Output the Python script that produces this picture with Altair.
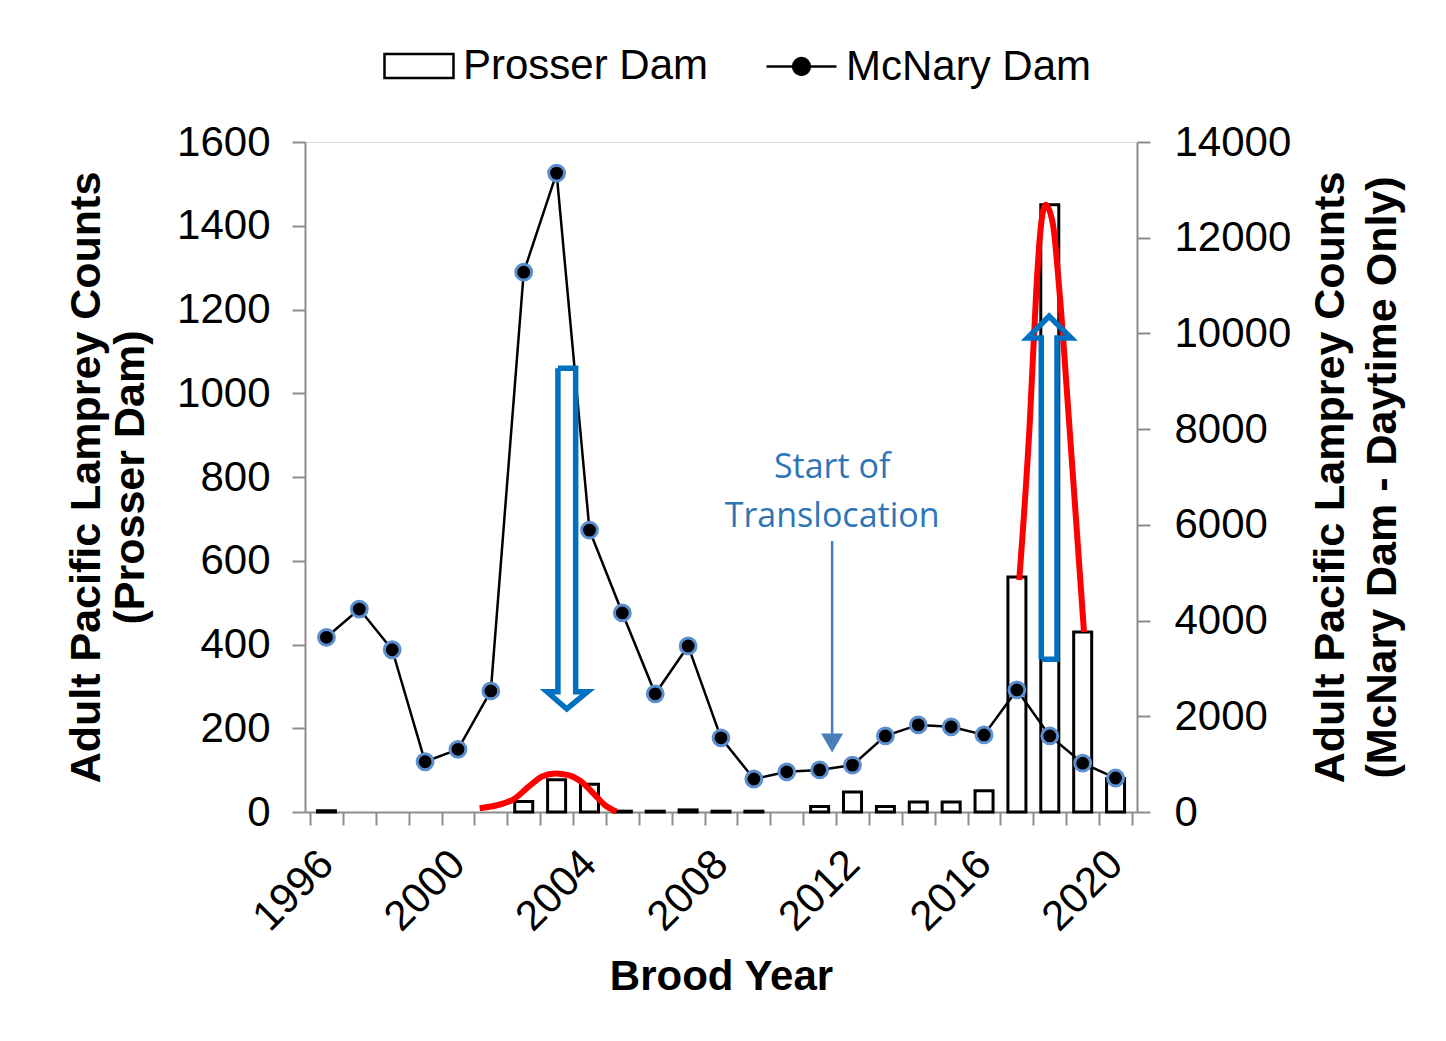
import altair as alt
import pandas as pd

FONT = "Liberation Sans"
GRAY = "#8c8c8c"

# ---- data ----
years = list(range(1996, 2021))
prosser = [3, None, None, None, None, None, 25, 77, 66, 2, 2, 5, 2, 2, None,
           13, 48, 13, 24, 24, 51, 561, 1450, 430, 80]
mcnary = [3650, 4240, 3390, 1050, 1310, 2530, 11280, 13350, 5890, 4160, 2470,
          3470, 1550, 690, 840, 880, 980, 1590, 1820, 1780, 1610, 2550, 1590,
          1020, 710]

# red trend curves (year, Prosser-scale count)
red_a_x = [2000.66, 2001.66, 2002.16, 2002.56, 2002.96, 2003.36, 2003.76, 2004.16, 2004.46, 2004.82]
red_a_y = [9, 29, 61, 85, 92, 88, 72, 41, 17, 1]
red_b_x = [2017.07, 2017.39, 2017.59, 2017.69, 2017.87, 2018.09, 2018.29, 2018.59, 2019.04]
red_b_y = [554, 928, 1247, 1366, 1450, 1406, 1247, 928, 430]

# hollow block arrows (outline vertices)
arrow_down_x = [2003.04, 2003.58, 2003.58, 2003.94, 2003.31, 2002.71, 2003.04, 2003.04]
arrow_down_y = [1060, 1060, 287, 287, 246, 287, 287, 1060]
arrow_up_x = [2017.74, 2017.74, 2017.32, 2017.98, 2018.65, 2018.22, 2018.22, 2017.74]
arrow_up_y = [365, 1132, 1132, 1184, 1132, 1132, 365, 365]

# annotation
note_lines = ["Start of", "Translocation"]
note_line_y = [798, 681]
note_x = 2011.38
note_arrow_top = 647
note_arrow_end = 185
note_head_y = 165

# ---- tables ----
df = pd.DataFrame({"year": years, "prosser": prosser, "mcnary": mcnary})
df["s1"] = "Prosser Dam"
df["s2"] = "McNary Dam"

red_rows = []
for cid, xs, ys in (("a", red_a_x, red_a_y), ("b", red_b_x, red_b_y)):
    for i, (xv, yv) in enumerate(zip(xs, ys)):
        red_rows.append({"curve": cid, "i": i, "x": xv, "y": yv})
red_df = pd.DataFrame(red_rows)

arrow_rows = []
for aid, xs, ys in (("down", arrow_down_x, arrow_down_y), ("up", arrow_up_x, arrow_up_y)):
    for i, (xv, yv) in enumerate(zip(xs, ys)):
        arrow_rows.append({"arrow": aid, "i": i, "x": xv, "y": yv})
arrow_df = pd.DataFrame(arrow_rows)

note_df = pd.DataFrame({"text": note_lines, "y": note_line_y, "x": [note_x] * 2})
note_arrow_df = pd.DataFrame({"x": [note_x], "y": [note_arrow_top], "y2": [note_arrow_end],
                              "yh": [note_head_y]})

# ---- scales ----
xscale = alt.Scale(domain=[1995.5, 2020.5], nice=False, zero=False)
yleft = alt.Scale(domain=[0, 1600], nice=False)
yright = alt.Scale(domain=[0, 14000], nice=False)

x_axis = alt.Axis(
    values=[y - 0.5 for y in years] + [2020.5],
    labelExpr="(datum.value + 0.5) % 4 == 0 ? '' + (datum.value + 0.5) : ''",
    labelAngle=-45, labelOffset=2, labelPadding=18,
    labelFont=FONT, labelFontSize=42, labelColor="black",
    labelOverlap=False, labelFlush=False, labelBound=False,
    tickSize=13, tickColor=GRAY, tickWidth=2, domainColor=GRAY, domainWidth=2,
    grid=False, title="Brood Year", titleFont=FONT, titleFontSize=42,
    titleFontWeight="bold", titleColor="black", titlePadding=18,
)
left_axis = alt.Axis(
    orient="left", values=list(range(0, 1601, 200)), format="d", grid=False,
    labelFont=FONT, labelFontSize=42, labelColor="black", labelPadding=22,
    tickSize=13, tickColor=GRAY, tickWidth=2, domainColor=GRAY, domainWidth=2,
    title=["Adult Pacific Lamprey Counts", "(Prosser Dam)"],
    titleFont=FONT, titleFontSize=43, titleFontWeight="bold", titleColor="black",
    titleLineHeight=44, titleAngle=270, titleBaseline="top", titleAlign="center",
    titleX=-240, titleY=335,
)
right_axis = alt.Axis(
    orient="right", values=list(range(0, 14001, 2000)), format="d", grid=False,
    labelFont=FONT, labelFontSize=42, labelColor="black", labelPadding=24,
    tickSize=13, tickColor=GRAY, tickWidth=2, domainColor=GRAY, domainWidth=2,
    title=["Adult Pacific Lamprey Counts", "(McNary Dam - Daytime Only)"],
    titleFont=FONT, titleFontSize=43, titleFontWeight="bold", titleColor="black",
    titleLineHeight=52, titleAngle=270, titleBaseline="top", titleAlign="center",
    titleX=172, titleY=335,
)

RECT_PATH = "M-1,-0.35L1,-0.35L1,0.35L-1,0.35Z"
LINE_DOT_PATH = ("M-1,0L-0.24,0M0.24,0L1,0M-0.24,0A0.24,0.24 0 1,1 0.24,0"
                 "A0.24,0.24 0 1,1 -0.24,0Z")

bars = alt.Chart(df).transform_filter("isValid(datum.prosser)").mark_bar(
    size=18, stroke="black", strokeWidth=3
).encode(
    x=alt.X("year:Q", scale=xscale, axis=x_axis),
    y=alt.Y("prosser:Q", scale=yleft, axis=left_axis),
    fill=alt.Fill("s1:N", scale=alt.Scale(domain=["Prosser Dam"], range=["white"]),
                  legend=alt.Legend(orient="none", legendX=78, legendY=-112, title=None,
                                    padding=0, symbolType=RECT_PATH, symbolSize=4761,
                                    symbolStrokeColor="black", symbolStrokeWidth=2.5,
                                    labelFont=FONT, labelFontSize=42, labelColor="black",
                                    labelOffset=8, labelLimit=500)),
)

line = alt.Chart(df).mark_line(strokeWidth=2.5).encode(
    x=alt.X("year:Q", scale=xscale, axis=x_axis),
    y=alt.Y("mcnary:Q", scale=yright, axis=right_axis),
    stroke=alt.Stroke("s2:N", scale=alt.Scale(domain=["McNary Dam"], range=["black"]),
                      legend=alt.Legend(orient="none", legendX=460, legendY=-112, title=None,
                                        padding=0, symbolType=LINE_DOT_PATH, symbolSize=4900,
                                        symbolFillColor="black", symbolStrokeWidth=2.5,
                                        labelFont=FONT, labelFontSize=42, labelColor="black",
                                        labelOffset=8, labelLimit=500)),
)

points = alt.Chart(df).mark_point(
    filled=True, fill="black", stroke="#5b8fd0", strokeWidth=3, size=250, opacity=1
).encode(
    x=alt.X("year:Q", scale=xscale, axis=x_axis),
    y=alt.Y("mcnary:Q", scale=yright, axis=None),
)

red = alt.Chart(red_df).mark_line(color="#ff0000", strokeWidth=6, interpolate="monotone").encode(
    x=alt.X("x:Q", scale=xscale, axis=x_axis),
    y=alt.Y("y:Q", scale=yleft, axis=None),
    detail="curve:N",
    order="i:Q",
)

blue = alt.Chart(arrow_df).mark_line(color="#0070c0", strokeWidth=5.5, strokeJoin="miter").encode(
    x=alt.X("x:Q", scale=xscale, axis=x_axis),
    y=alt.Y("y:Q", scale=yleft, axis=None),
    detail="arrow:N",
    order="i:Q",
)

note_rule = alt.Chart(note_arrow_df).mark_rule(color="#4a7ebb", strokeWidth=2.5).encode(
    x=alt.X("x:Q", scale=xscale, axis=x_axis),
    y=alt.Y("y:Q", scale=yleft, axis=None),
    y2="y2:Q",
)
note_head = alt.Chart(note_arrow_df).mark_point(
    shape="triangle-down", filled=True, size=484, color="#4a7ebb", opacity=1
).encode(
    x=alt.X("x:Q", scale=xscale, axis=x_axis),
    y=alt.Y("yh:Q", scale=yleft, axis=None),
)
note_text = alt.Chart(note_df).mark_text(
    font="Open Sans", fontSize=34, color="#2e75b6", align="center", baseline="alphabetic"
).encode(
    x=alt.X("x:Q", scale=xscale, axis=x_axis),
    y=alt.Y("y:Q", scale=yleft, axis=None),
    text="text:N",
)

chart = alt.layer(
    bars, line, points, red, blue, note_rule, note_head, note_text
).resolve_scale(
    y="independent"
).properties(
    width=832, height=670,
    padding={"left": 297, "top": 134, "right": 301, "bottom": 215},
    autosize=alt.AutoSizeParams(type="none"),
).configure_view(stroke="transparent").configure(font=FONT)

chart.save("out.html", embed_options={"renderer": "svg", "actions": False})
